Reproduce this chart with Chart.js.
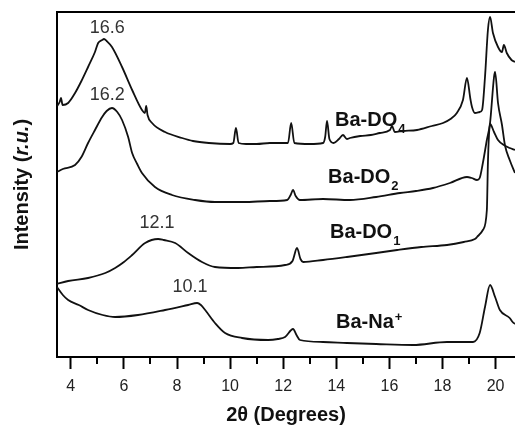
<!DOCTYPE html>
<html><head><meta charset="utf-8">
<script src="https://cdn.jsdelivr.net/npm/chart.js@4.4.1/dist/chart.umd.min.js"></script>
<style>html,body{margin:0;padding:0;background:#fff}</style>
</head><body>
<canvas id="c" width="515" height="427"></canvas>
<script>
// ---- data (2θ in degrees, intensity in relative units) ----
const xTickValues = [4, 6, 8, 10, 12, 14, 16, 18, 20];
const minorTickValues = [5, 7, 9, 11, 13, 15, 17, 19];
const seriesNames = ['Ba-DO4', 'Ba-DO2', 'Ba-DO1', 'Ba-Na+'];

const baDO4 = [[3.48,251],[3.58,255],[3.63,259],[3.69,252],[3.90,254],[4.16,264],[4.40,276],[4.65,290],[4.91,305],[5.03,314],[5.18,317],[5.25,318],[5.35,316],[5.55,310],[5.93,290],[6.31,267],[6.68,247],[6.79,244],[6.84,251],[6.89,242],[7.06,234],[7.55,225],[8.19,219],[8.60,216],[9.20,214],[10.00,213],[10.12,214],[10.22,229],[10.32,214],[10.60,213],[11.00,213],[11.50,214],[12.18,214],[12.30,234],[12.42,214],[13.00,213],[13.50,214],[13.58,220],[13.65,236],[13.74,218],[13.90,214],[14.10,218],[14.25,222],[14.40,218],[14.51,219],[14.90,221],[15.30,222],[15.64,224],[16.02,227],[16.10,231],[16.20,225],[16.50,226],[17.04,227],[17.60,231],[18.02,234],[18.30,238],[18.54,244],[18.77,257],[18.92,279],[19.05,258],[19.11,250],[19.22,244],[19.40,245],[19.49,247],[19.60,280],[19.71,327],[19.79,340],[19.90,324],[20.09,310],[20.24,305],[20.31,312],[20.42,304],[20.60,297],[20.73,295]];

const baDO2 = [[3.48,185],[3.70,188],[4.16,192],[4.40,200],[4.65,214],[4.91,227],[5.18,240],[5.35,246],[5.55,249],[5.75,245],[5.93,237],[6.16,220],[6.31,204],[6.50,193],[6.68,184],[7.17,170],[7.81,162],[8.68,157],[9.43,155],[10.50,155],[11.50,156],[12.15,157],[12.28,162],[12.37,167],[12.47,161],[12.63,157],[13.50,158],[14.51,157],[15.50,160],[16.40,164],[17.00,166],[17.64,169],[18.28,174],[18.92,180],[19.10,179],[19.30,177],[19.40,179],[19.52,194],[19.67,217],[19.79,234],[19.94,280],[19.98,285],[20.09,254],[20.24,232],[20.35,212],[20.53,197],[20.73,184]];

const baDO1 = [[3.48,73],[3.90,76],[4.65,79],[5.30,84],[5.67,89],[6.00,95],[6.31,102],[6.80,114],[7.29,118],[7.50,117],[7.93,114],[8.42,104],[8.94,95],[9.43,90],[10.30,89],[11.00,90],[12.07,92],[12.35,96],[12.52,109],[12.65,98],[12.75,95],[13.50,97],[14.40,100],[15.50,104],[16.29,107],[17.20,110],[18.17,112],[18.80,115],[19.22,118],[19.30,120],[19.52,127],[19.67,147],[19.71,194],[19.75,222],[19.79,233],[19.94,225],[20.09,217],[20.31,212],[20.53,209],[20.73,207]];

const baNa = [[3.48,70],[3.70,62],[3.90,57],[4.30,52],[4.65,47],[5.20,42],[5.67,40],[6.53,42],[7.55,47],[8.42,52],[8.76,54],[8.90,52],[9.06,47],[9.43,34],[9.81,24],[10.45,19],[11.43,17],[11.80,18],[12.07,20],[12.37,28],[12.50,22],[12.63,17],[13.50,15],[14.40,14],[15.50,13],[16.89,12],[18.17,15],[19.15,15],[19.40,24],[19.60,50],[19.79,72],[19.98,60],[20.16,47],[20.53,39],[20.64,35],[20.73,33]];

const peakLabels = ['16.6', '16.2', '12.1', '10.1'];
const peakLabelX = [5.37, 5.37, 7.25, 8.49];
const peakLabelY = [329, 262, 134, 70];

const sampleMain = ['Ba-DO', 'Ba-DO', 'Ba-DO', 'Ba-Na'];
const sampleScript = ['4', '2', '1', '+'];
const sampleLabelX = [13.95, 13.69, 13.76, 13.99];
const sampleLabelY = [231, 174, 119, 29];

// ---- chart ----
const FONT = '"Liberation Sans", Arial, sans-serif';
const toPts = arr => arr.map(p => ({x: p[0], y: p[1]}));
const allSeries = [baDO4, baDO2, baDO1, baNa];

const overlay = {
  id: 'overlay',
  afterDraw(chart) {
    const {ctx, chartArea: a, scales: {x, y}} = chart;
    ctx.save();
    ctx.strokeStyle = '#000';
    ctx.lineWidth = 2;
    ctx.beginPath(); ctx.moveTo(a.left - 1, a.top); ctx.lineTo(a.right, a.top); ctx.stroke();
    minorTickValues.forEach(v => {
      const p = Math.round(x.getPixelForValue(v));
      ctx.beginPath(); ctx.moveTo(p, a.bottom); ctx.lineTo(p, a.bottom + 7); ctx.stroke();
    });
    ctx.fillStyle = '#333';
    ctx.font = '18px ' + FONT;
    ctx.textAlign = 'center';
    ctx.textBaseline = 'middle';
    peakLabels.forEach((t, i) => ctx.fillText(t, x.getPixelForValue(peakLabelX[i]), y.getPixelForValue(peakLabelY[i])));
    ctx.fillStyle = '#111';
    ctx.textAlign = 'left';
    ctx.textBaseline = 'alphabetic';
    sampleMain.forEach((m, i) => {
      const px = x.getPixelForValue(sampleLabelX[i]);
      const py = y.getPixelForValue(sampleLabelY[i]);
      ctx.font = 'bold 20px ' + FONT;
      ctx.fillText(m, px, py);
      const w = ctx.measureText(m).width;
      const s = sampleScript[i];
      ctx.font = 'bold 13px ' + FONT;
      ctx.fillText(s, px + w + 1, py + (s === '+' ? -7 : 7));
    });
    // y axis title with italic part
    const segs = [['Intensity (', 'bold '], ['r.u.', 'italic bold '], [')', 'bold ']];
    ctx.translate(22, (a.top + a.bottom) / 2);
    ctx.rotate(-Math.PI / 2);
    let total = 0;
    segs.forEach(s => { ctx.font = s[1] + '20px ' + FONT; s.w = ctx.measureText(s[0]).width; total += s.w; });
    let cx = -total / 2;
    ctx.textBaseline = 'middle';
    segs.forEach(s => { ctx.font = s[1] + '20px ' + FONT; ctx.fillText(s[0], cx, 0); cx += s.w; });
    ctx.restore();
  }
};

new Chart(document.getElementById('c'), {
  type: 'line',
  data: {
    datasets: allSeries.map((s, i) => ({
      label: seriesNames[i],
      data: toPts(s),
      borderColor: '#111',
      borderWidth: 1.8,
      pointRadius: 0,
      fill: false,
      cubicInterpolationMode: 'monotone'
    }))
  },
  options: {
    responsive: false,
    animation: false,
    layout: {padding: {top: 12, left: 0, right: 0, bottom: 0}},
    plugins: {legend: {display: false}, tooltip: {enabled: false}},
    scales: {
      x: {
        type: 'linear',
        min: 3.48,
        max: 20.73,
        afterBuildTicks: s => { s.ticks = xTickValues.map(v => ({value: v})); },
        afterFit: s => { s.height = 70; },
        grid: {display: true, drawOnChartArea: false, drawTicks: true, tickLength: 12, tickWidth: 2, tickColor: '#000'},
        border: {display: true, color: '#000', width: 2},
        ticks: {color: '#222', font: {family: FONT, size: 16}, padding: 8, maxRotation: 0, autoSkip: false},
        title: {display: true, text: '2θ (Degrees)', color: '#111', font: {family: FONT, size: 20, weight: 'bold'}, padding: {top: 0, bottom: 0}}
      },
      y: {
        type: 'linear',
        min: 0,
        max: 345,
        afterFit: s => { s.width = 57; },
        grid: {display: false},
        border: {display: true, color: '#000', width: 2},
        ticks: {display: false}
      }
    }
  },
  plugins: [overlay]
});
</script>
</body></html>
